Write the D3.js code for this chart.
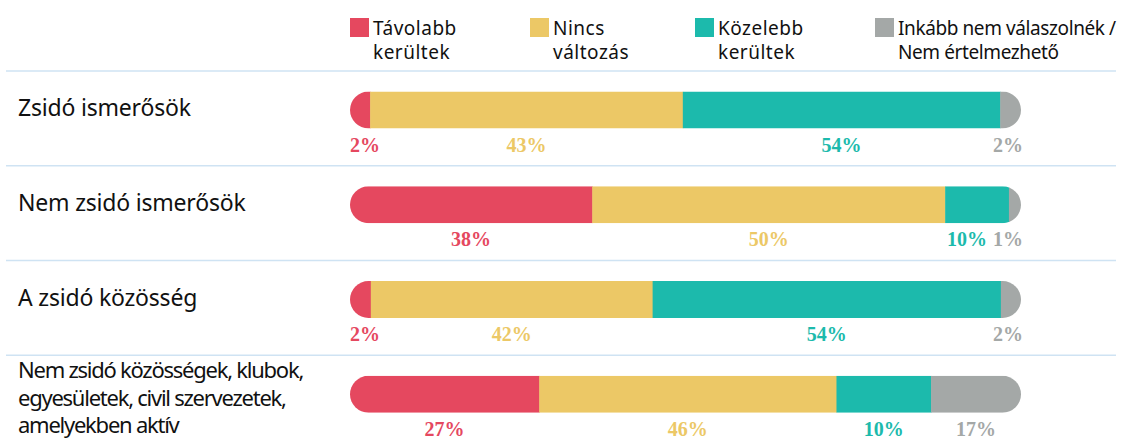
<!DOCTYPE html>
<html>
<head>
<meta charset="utf-8">
<script src="https://cdn.jsdelivr.net/npm/d3@7"></script>
<style>
  html, body { margin: 0; padding: 0; background: #fff; }
  svg { display: block; }
</style>
</head>
<body>
<svg id="chart" width="1122" height="444"></svg>
<script>
// ---------- DATA ----------
const categories = [
  "Zsidó ismerősök",
  "Nem zsidó ismerősök",
  "A zsidó közösség",
  "Nem zsidó közösségek, klubok, egyesületek, civil szervezetek, amelyekben aktív"
];
const categoryLines = [
  ["Zsidó ismerősök"],
  ["Nem zsidó ismerősök"],
  ["A zsidó közösség"],
  ["Nem zsidó közösségek, klubok,", "egyesületek, civil szervezetek,", "amelyekben aktív"]
];
const seriesNames = ["Távolabb kerültek", "Nincs változás", "Közelebb kerültek", "Inkább nem válaszolnék / Nem értelmezhető"];
const legendLines = [
  ["Távolabb", "kerültek"],
  ["Nincs", "változás"],
  ["Közelebb", "kerültek"],
  ["Inkább nem válaszolnék /", "Nem értelmezhető"]
];
// bar segment lengths as drawn (share of bar, %)
const tavolabb = [3.0, 36.1, 3.1, 28.2];
const nincs    = [46.6, 52.6, 42.0, 44.3];
const kozelebb = [47.3, 9.5, 51.9, 14.1];
const inkabb   = [3.1, 1.8, 3.0, 13.4];
// printed percentage labels
const tavolabbLabel = [2, 38, 2, 27];
const nincsLabel    = [43, 50, 42, 46];
const kozelebbLabel = [54, 10, 54, 10];
const inkabbLabel   = [2, 1, 2, 17];

const colors = ["#E5485F", "#ECC866", "#1CBAAC", "#A4A8A7"];

// ---------- LAYOUT ----------
const W = 1122, H = 444;
const barLeft = 350, barRight = 1021, barH = 37;
const legendX = [350, 530, 695, 875];

const svg = d3.select("#chart");

const x = d3.scaleLinear().domain([0, 100]).range([barLeft, barRight]);
const y = d3.scalePoint().domain(categories).range([110, 394.25]);

const seriesVals = [tavolabb, nincs, kozelebb, inkabb];
const seriesLbls = [tavolabbLabel, nincsLabel, kozelebbLabel, inkabbLabel];

// ---------- LEGEND ----------
const legend = svg.append("g");
seriesNames.forEach((name, i) => {
  const g = legend.append("g").attr("transform", `translate(${legendX[i]},0)`);
  g.append("rect").attr("x", 0).attr("y", 18).attr("width", 19).attr("height", 19).attr("fill", colors[i]);
  const t = g.append("text")
    .attr("font-family", "'Noto Sans', sans-serif")
    .attr("font-size", 19)
    .attr("letter-spacing", i === 3 ? -0.4 : 0.5)
    .attr("fill", "#111");
  legendLines[i].forEach((ln, k) => {
    t.append("tspan").attr("x", 23).attr("y", 35 + k * 24).text(ln);
  });
});

// ---------- SEPARATORS ----------
svg.append("g").selectAll("line").data(categories).join("line")
  .attr("x1", 6).attr("x2", 1116)
  .attr("y1", d => y(d) - 39).attr("y2", d => y(d) - 39)
  .attr("stroke", "#cfe3f3").attr("stroke-width", 1.5);

// ---------- ROW LABELS ----------
svg.append("g").selectAll("text").data(categories).join("text")
  .attr("font-family", "'Noto Sans', sans-serif")
  .attr("font-size", (d, i) => categoryLines[i].length > 1 ? 22 : 23)
  .attr("fill", "#111")
  .attr("letter-spacing", (d, i) => categoryLines[i].length > 1 ? -1.25 : -0.2)
  .each(function(d, i) {
    const lines = categoryLines[i];
    const n = lines.length;
    const first = y(d) + 6 - (n - 1) * 11;
    lines.forEach((ln, k) => {
      d3.select(this).append("tspan").attr("x", 18).attr("y", first + k * 27.5).text(ln);
    });
  });

// ---------- BARS ----------
const defs = svg.append("defs");
categories.forEach((cat, r) => {
  const cy = y(cat);
  const top = cy - barH / 2;
  const clipId = "clip" + r;
  defs.append("clipPath").attr("id", clipId)
    .append("rect")
    .attr("x", x(0)).attr("y", top)
    .attr("width", x(100) - x(0)).attr("height", barH)
    .attr("rx", barH / 2).attr("ry", barH / 2);

  const segs = [];
  let acc = 0;
  seriesVals.forEach((s, i) => {
    segs.push({ i, start: acc, end: acc + s[r], label: seriesLbls[i][r] + "%" });
    acc += s[r];
  });

  const g = svg.append("g");
  g.append("g").attr("clip-path", `url(#${clipId})`)
    .selectAll("rect").data(segs).join("rect")
    .attr("x", d => x(d.start))
    .attr("y", top)
    .attr("width", d => Math.max(0, x(d.end) - x(d.start)) + 0.5)
    .attr("height", barH)
    .attr("fill", d => colors[d.i]);

  // labels
  const labels = g.append("g").selectAll("text").data(segs).join("text")
    .attr("font-family", "'Liberation Serif', serif")
    .attr("font-weight", "bold")
    .attr("font-size", 20)
    .attr("fill", d => colors[d.i])
    .attr("y", top + barH + 23)
    .text(d => d.label);

  const items = [];
  labels.each(function(d) {
    const w = this.getComputedTextLength();
    items.push({ node: this, w, cx: (x(d.start) + x(d.end)) / 2 });
  });
  const gap = 6, minL = barLeft, maxR = barRight + 2;
  let prevR = minL - gap;
  items.forEach(it => {
    let l = it.cx - it.w / 2;
    if (l < prevR + gap) l = prevR + gap;
    it.l = l;
    prevR = l + it.w;
  });
  let nextL = maxR + gap;
  for (let k = items.length - 1; k >= 0; k--) {
    const it = items[k];
    if (it.l + it.w > nextL - gap) it.l = nextL - gap - it.w;
    nextL = it.l;
  }
  items.forEach(it => d3.select(it.node).attr("x", it.l));
});
</script>
</body>
</html>
